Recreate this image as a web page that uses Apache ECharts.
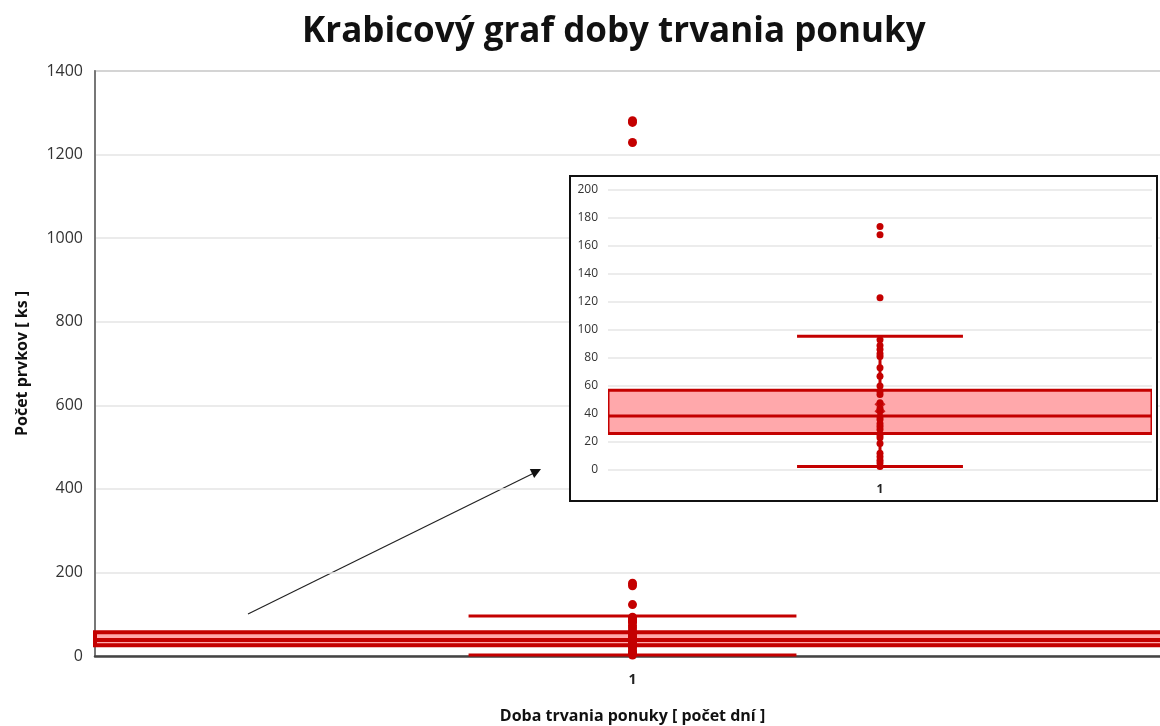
<!DOCTYPE html>
<html>
<head>
<meta charset="utf-8">
<title>Krabicový graf doby trvania ponuky</title>
<script src="https://cdn.jsdelivr.net/npm/echarts@6/dist/echarts.min.js"></script>
<style>
  html, body { margin: 0; padding: 0; background: #fff; }
  #boxChart { width: 1160px; height: 726px; }
</style>
</head>
<body>
<div id="boxChart"></div>
<script>
// data
const categories = ['1']
const boxStats = [2.5, 26, 38.5, 57, 95.5] // min, Q1, median, Q3, max
const meanValue = 44.5
const outliers = [1281, 1277, 1229, 174, 168, 123]
const innerPoints = [93, 89, 86, 83, 81, 73, 67, 60, 56, 54, 48, 44, 42, 38, 36, 33, 31, 29, 25, 23, 19, 12, 9.5, 7, 5, 2.5]
const mainTicks = { min: 0, max: 1400, interval: 200 }
const insetTicks = { min: 0, max: 200, interval: 20 }

const darkRed = '#c40000'
const pink = '#ffa8ab'
const font = 'Open Sans'

// box + whiskers, drawn from the axis scales
const boxRender = (lineW, capW) => (params, api) => {
  const c = api.value(0)
  const lo = api.coord([c, api.value(1)])
  const q1 = api.coord([c, api.value(2)])
  const md = api.coord([c, api.value(3)])
  const q3 = api.coord([c, api.value(4)])
  const hi = api.coord([c, api.value(5)])
  const band = api.size([1, 0])[0]
  const cx = lo[0]
  const half = band / 2
  const cap = band * 0.305 / 2
  const line = (x1, y1, x2, y2, w) => ({
    type: 'line',
    shape: { x1, y1, x2, y2 },
    style: { stroke: darkRed, lineWidth: w }
  })
  return {
    type: 'group',
    children: [
      line(cx, q3[1], cx, hi[1], capW),
      line(cx, q1[1], cx, lo[1], capW),
      line(cx - cap, hi[1], cx + cap, hi[1], capW),
      line(cx - cap, lo[1], cx + cap, lo[1], capW),
      {
        type: 'rect',
        shape: { x: cx - half, y: q3[1], width: band, height: q1[1] - q3[1] },
        style: { fill: pink, stroke: darkRed, lineWidth: lineW }
      },
      line(cx - half, md[1], cx + half, md[1], lineW)
    ]
  }
}

const boxRow = [[0, ...boxStats]]
const pointRows = outliers.concat(innerPoints).map(v => ['1', v])
const xMark = 'path://M0,0L10,10M10,0L0,10'
const plain = v => String(v)

const chart = echarts.init(document.getElementById('boxChart'))
chart.setOption({
  animation: false,
  textStyle: { fontFamily: font },
  title: {
    text: 'Krabicový graf doby trvania ponuky',
    left: 297,
    top: 10,
    textStyle: { fontFamily: font, fontSize: 35, fontWeight: 'bold', color: '#111' }
  },
  grid: [
    { left: 95, right: -10, top: 71, bottom: 70, outerBoundsMode: 'none', show: true, borderColor: '#888', borderWidth: 1.5 },
    { left: 608, right: 8, top: 190, bottom: 256, outerBoundsMode: 'none', zlevel: 1 }
  ],
  xAxis: [
    {
      type: 'category',
      data: categories,
      gridIndex: 0,
      axisTick: { show: false },
      axisLine: { lineStyle: { color: '#444', width: 2.5 } },
      axisLabel: { fontSize: 14, fontWeight: 'bold', color: '#222', margin: 17 },
      name: 'Doba trvania ponuky [ počet dní ]',
      nameLocation: 'middle',
      nameGap: 52,
      nameTextStyle: { fontSize: 16, fontWeight: 'bold', color: '#111' }
    },
    {
      type: 'category',
      data: categories,
      gridIndex: 1,
      zlevel: 1,
      axisTick: { show: false },
      axisLine: { show: false },
      axisLabel: { fontSize: 12, fontWeight: 'bold', color: '#222', margin: 14 }
    }
  ],
  yAxis: [
    {
      type: 'value',
      gridIndex: 0,
      ...mainTicks,
      axisLine: { show: true, lineStyle: { color: '#777', width: 2 } },
      axisTick: { show: false },
      axisLabel: { fontSize: 16, color: '#333', margin: 12, formatter: plain },
      splitLine: { lineStyle: { color: '#e4e4e4', width: 1.5 } },
      name: 'Počet prvkov [ ks ]',
      nameLocation: 'middle',
      nameGap: 65,
      nameTextStyle: { fontSize: 16, fontWeight: 'bold', color: '#111' }
    },
    {
      type: 'value',
      gridIndex: 1,
      zlevel: 1,
      ...insetTicks,
      axisLine: { show: false },
      axisTick: { show: false },
      axisLabel: { fontSize: 12, color: '#333', margin: 10, formatter: plain },
      splitLine: { lineStyle: { color: '#e6e6e6', width: 1.5 } }
    }
  ],
  graphic: [
    {
      type: 'rect',
      zlevel: 1,
      z: -10,
      shape: { x: 570, y: 176, width: 587, height: 325 },
      style: { fill: '#fff', stroke: '#111', lineWidth: 2 }
    },
    {
      type: 'line',
      shape: { x1: 248, y1: 614, x2: 534, y2: 473 },
      style: { stroke: '#222', lineWidth: 1.2 }
    },
    {
      type: 'polygon',
      shape: { points: [[541, 469], [534.2, 477.9], [529.8, 468.9]] },
      style: { fill: '#111' }
    }
  ],
  series: [
    {
      type: 'custom',
      xAxisIndex: 0,
      yAxisIndex: 0,
      renderItem: boxRender(4, 3),
      data: boxRow,
      z: 2
    },
    {
      type: 'scatter',
      xAxisIndex: 0,
      yAxisIndex: 0,
      symbolSize: 9,
      itemStyle: { color: darkRed, opacity: 1 },
      data: pointRows,
      z: 4
    },
    {
      type: 'custom',
      xAxisIndex: 1,
      yAxisIndex: 1,
      zlevel: 1,
      renderItem: boxRender(3, 3),
      data: boxRow,
      clip: true,
      z: 2
    },
    {
      type: 'scatter',
      xAxisIndex: 1,
      yAxisIndex: 1,
      zlevel: 1,
      symbolSize: 7,
      clip: true,
      itemStyle: { color: darkRed, opacity: 1 },
      data: pointRows.filter(p => p[1] <= insetTicks.max),
      z: 4
    },
    {
      type: 'scatter',
      xAxisIndex: 1,
      yAxisIndex: 1,
      zlevel: 1,
      symbol: xMark,
      symbolSize: 9,
      itemStyle: { color: 'none', borderColor: darkRed, borderWidth: 3 },
      data: [['1', meanValue]],
      z: 5
    }
  ]
})
</script>
</body>
</html>
